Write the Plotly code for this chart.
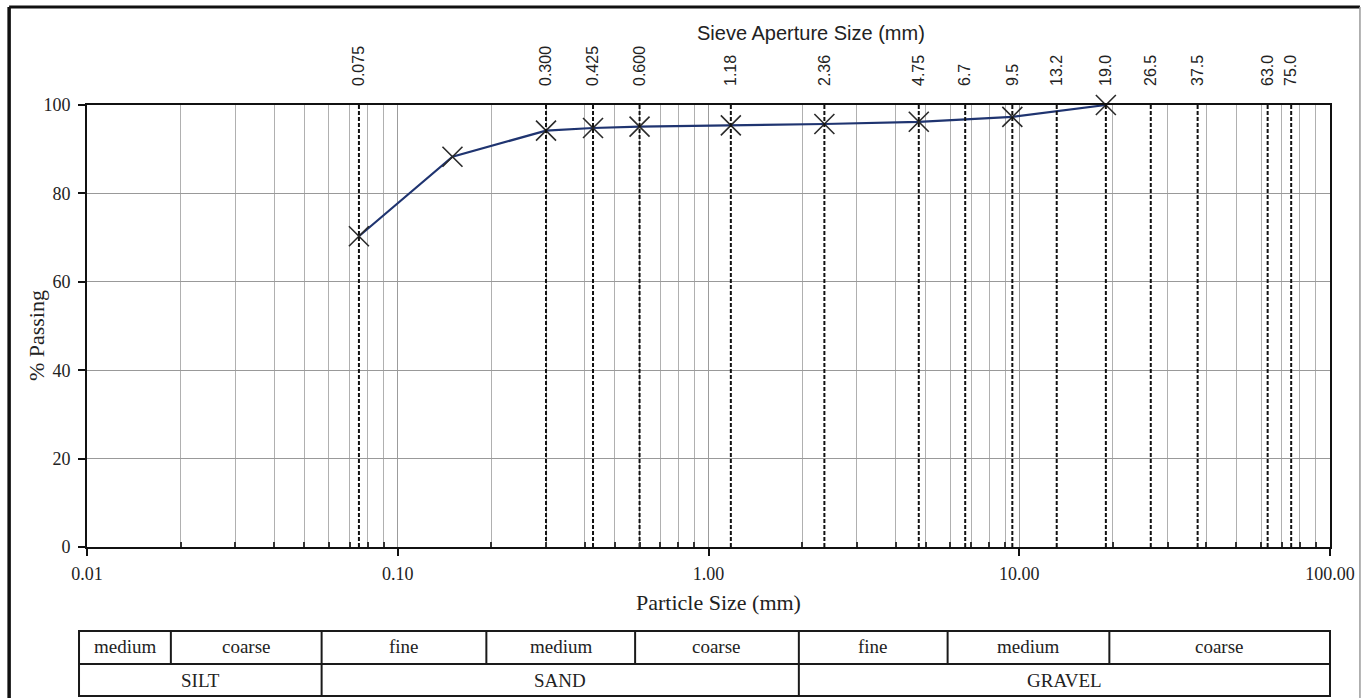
import plotly.graph_objects as go

# Grading result: particle size (mm) vs cumulative % passing
sizes = [0.075, 0.150, 0.300, 0.425, 0.600, 1.18, 2.36, 4.75, 9.5, 19.0]
passing = [70.3, 88.3, 94.2, 94.8, 95.1, 95.4, 95.7, 96.2, 97.3, 100.0]

# Standard sieve apertures marked on the chart
sieves = [0.075, 0.300, 0.425, 0.600, 1.18, 2.36, 4.75, 6.7, 9.5, 13.2,
          19.0, 26.5, 37.5, 63.0, 75.0]
sieve_labels = ["0.075", "0.300", "0.425", "0.600", "1.18", "2.36", "4.75",
                "6.7", "9.5", "13.2", "19.0", "26.5", "37.5", "63.0", "75.0"]

x_tickvals = [0.01, 0.1, 1, 10, 100]
x_ticktext = ["0.01", "0.10", "1.00", "10.00", "100.00"]
y_tickvals = [0, 20, 40, 60, 80, 100]

fraction_row = ["medium", "coarse", "fine", "medium", "coarse",
                "fine", "medium", "coarse"]
soil_row = ["SILT", "SAND", "GRAVEL"]

W, H = 1367, 698
L, R, T, B = 87, 1332, 105, 547   # plot area in pixels


def px(x):
    return (x - L) / (R - L)


def py(y):
    return (B - y) / (B - T)


SERIF = "Liberation Serif"
SANS = "Liberation Sans"
INK = "#222222"

minor_vals = [m * 10 ** e for e in range(-2, 2) for m in range(2, 10)]

fig = go.Figure()

# dashed verticals at each sieve size
sx, sy = [], []
for s in sieves:
    sx += [s, s, None]
    sy += [0, 100, None]
fig.add_trace(go.Scatter(
    x=sx, y=sy, mode="lines", xaxis="x2", yaxis="y",
    line=dict(color="#111111", width=2, dash="4px,2px"),
    hoverinfo="skip", showlegend=False))

# grading curve
fig.add_trace(go.Scatter(
    x=sizes, y=passing, mode="lines+markers", cliponaxis=False,
    line=dict(color="#1f3470", width=2.2),
    marker=dict(symbol="x-thin", size=20,
                line=dict(color="#2a2a2a", width=1.6)),
    showlegend=False))

shapes = []
annotations = []


def label(text, x, y, family, size, angle=0):
    annotations.append(dict(text=text, xref="paper", yref="paper",
                            x=px(x), y=py(y), xanchor="center",
                            yanchor="middle", showarrow=False,
                            textangle=angle,
                            font=dict(family=family, size=size, color=INK)))


# classification table under the chart
col_edges = [79, 171, 322, 487, 636, 800, 949, 1111, 1332]
soil_edges = [79, 322, 800, 1332]
row_top, row_mid, row_bot = 631, 664, 696

line_style = dict(color="#1a1a1a", width=2)
shapes.append(dict(type="rect", xref="paper", yref="paper",
                   x0=px(col_edges[0]), x1=px(col_edges[-1]),
                   y0=py(row_bot), y1=py(row_top), line=line_style))
shapes.append(dict(type="line", xref="paper", yref="paper",
                   x0=px(col_edges[0]), x1=px(col_edges[-1]),
                   y0=py(row_mid), y1=py(row_mid), line=line_style))
for e in col_edges[1:-1]:
    shapes.append(dict(type="line", xref="paper", yref="paper",
                       x0=px(e), x1=px(e), y0=py(row_mid), y1=py(row_top),
                       line=line_style))
for e in soil_edges[1:-1]:
    shapes.append(dict(type="line", xref="paper", yref="paper",
                       x0=px(e), x1=px(e), y0=py(row_bot), y1=py(row_mid),
                       line=line_style))

for i, name in enumerate(fraction_row):
    label(name, (col_edges[i] + col_edges[i + 1]) / 2,
          (row_top + row_mid) / 2 - 1, SERIF, 19)
for i, name in enumerate(soil_row):
    label(name, (soil_edges[i] + soil_edges[i + 1]) / 2,
          (row_mid + row_bot) / 2, SERIF, 19)

# titles
label("Sieve Aperture Size (mm)", 812, 33, SANS, 20)
label("Particle Size (mm)", 720, 602, SERIF, 22)
label("% Passing", 36, 336, SERIF, 22, angle=-90)

# outer frame
shapes.append(dict(type="line", xref="paper", yref="paper",
                   x0=px(9), x1=px(9), y0=py(7), y1=py(720),
                   line=dict(color="#111111", width=3.5)))
shapes.append(dict(type="line", xref="paper", yref="paper",
                   x0=px(9), x1=px(1362), y0=py(7), y1=py(7),
                   line=dict(color="#111111", width=3)))
shapes.append(dict(type="line", xref="paper", yref="paper",
                   x0=px(1362), x1=px(1362), y0=py(7), y1=py(720),
                   line=dict(color="#9a9a9a", width=1.5)))

fig.update_layout(
    width=W, height=H,
    margin=dict(l=L, r=W - R, t=T, b=H - B),
    paper_bgcolor="white", plot_bgcolor="white",
    shapes=shapes, annotations=annotations,
    xaxis=dict(
        type="log", range=[-2, 2], tickmode="array",
        tickvals=x_tickvals, ticktext=x_ticktext,
        ticks="outside", ticklen=7, tickcolor="#111111", tickwidth=1.5,
        ticklabelstandoff=2,
        tickfont=dict(family=SERIF, size=18, color=INK),
        showgrid=True, gridcolor="#9c9c9c", gridwidth=1,
        minor=dict(tickmode="array", tickvals=minor_vals, showgrid=True,
                   gridcolor="#b0b0b0", gridwidth=1, ticks="inside",
                   ticklen=5, tickcolor="#333333"),
        showline=True, linecolor="#111111", linewidth=2, mirror=True,
        zeroline=False,
    ),
    xaxis2=dict(
        type="log", range=[-2, 2], overlaying="x", side="top", anchor="y",
        tickmode="array", tickvals=sieves, ticktext=sieve_labels,
        tickangle=-90, ticks="", ticklabelstandoff=18,
        tickfont=dict(family=SANS, size=16, color=INK),
        showgrid=False, showline=False, zeroline=False,
    ),
    yaxis=dict(
        range=[0, 100], tickmode="array", tickvals=y_tickvals,
        ticks="outside", ticklen=7, tickcolor="#111111", tickwidth=1.5,
        ticklabelstandoff=4,
        tickfont=dict(family=SERIF, size=18, color=INK),
        showgrid=True, gridcolor="#999999", gridwidth=1,
        showline=True, linecolor="#111111", linewidth=2, mirror=True,
        zeroline=False,
    ),
)

fig.write_html("out.html")
